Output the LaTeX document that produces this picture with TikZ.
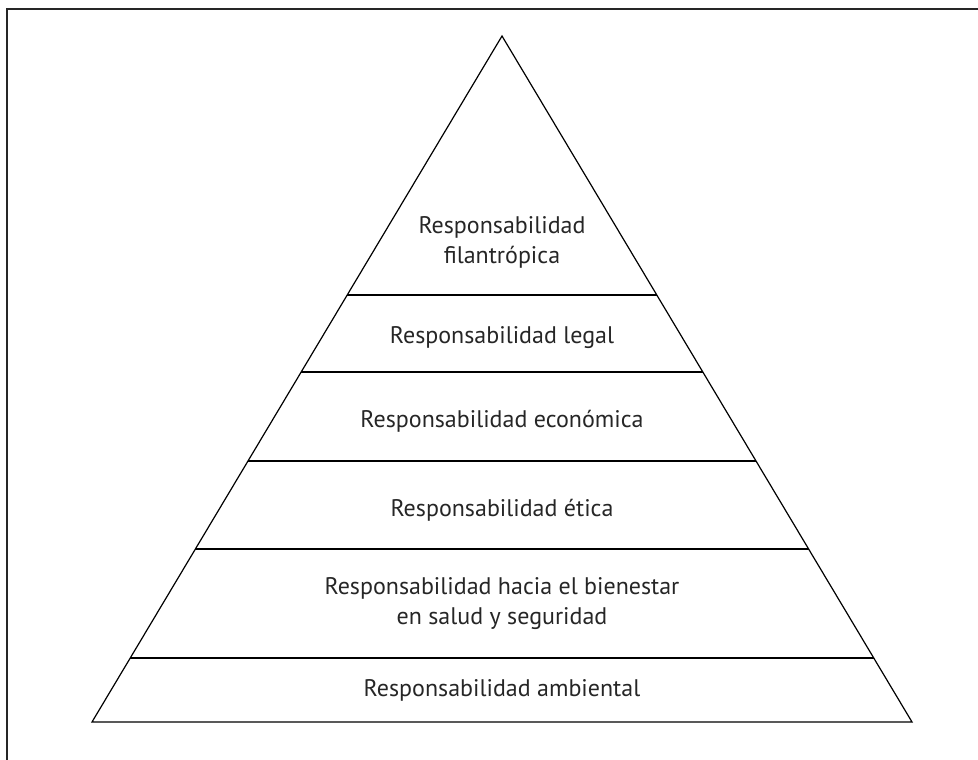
\documentclass[tikz,border=0pt]{standalone}
\usepackage{fontspec}
\setmainfont{PT Sans}
\usetikzlibrary{calc}
\begin{document}
\begin{tikzpicture}[x=1pt,y=-1pt,
  edge/.style={line width=1.2pt,black},
  lbl/.style={font=\fontsize{24}{30}\selectfont,align=center,text=black!85}]
\useasboundingbox (0,0) rectangle (978,760);
\clip (0,0) rectangle (978,760);
\draw[line width=1.5pt,black!85] (7,9) rectangle (1000,800);
\coordinate (A) at (502,36);
\coordinate (L) at (92,722);
\coordinate (R) at (912,722);
\draw[edge] (A) -- (L) -- (R) -- cycle;
\foreach \t/\n in {0.6224/a,0.5102/b,0.3805/c,0.2522/d,0.0933/e}{
  \coordinate (l\n) at ($(L)!\t!(A)$);
  \coordinate (r\n) at ($(R)!\t!(A)$);
  \draw[edge] (l\n) -- (r\n);
}
\node[lbl] (n1) at (502,242) {Responsabilidad\\filantrópica};
\node[lbl] (n2) at (502,338) {Responsabilidad legal};
\node[lbl] (n3) at (502,421) {Responsabilidad económica};
\node[lbl] (n4) at (502,510) {Responsabilidad ética};
\node[lbl] (n5) at (502,604) {Responsabilidad hacia el bienestar\\en salud y seguridad};
\node[lbl] (n6) at (502,690) {Responsabilidad ambiental};
\end{tikzpicture}
\end{document}
